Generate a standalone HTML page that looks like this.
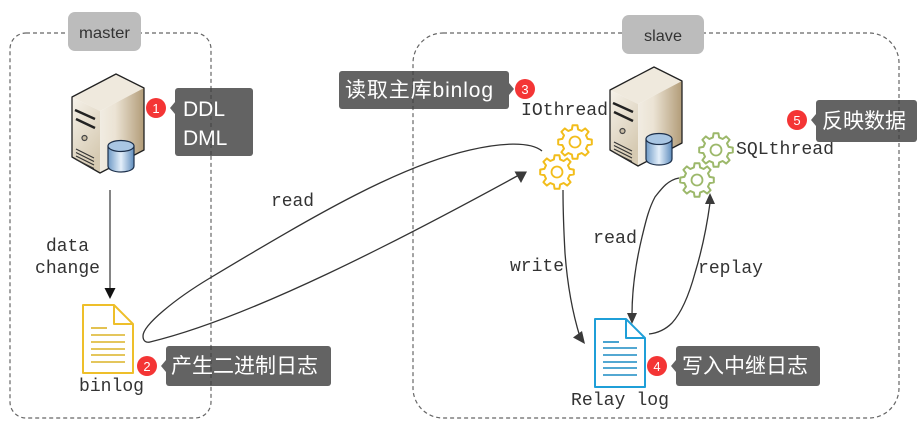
<!DOCTYPE html>
<html>
<head>
<meta charset="utf-8">
<style>
html,body{margin:0;padding:0;background:#fff;width:917px;height:435px;overflow:hidden}
svg{display:block}
.mono{font-family:"Liberation Mono",monospace;font-size:18px;fill:#333}
.cjk{font-family:"Liberation Sans","Noto Sans CJK SC",sans-serif;font-size:21px;fill:#fff}
.num{font-family:"Liberation Sans",sans-serif;font-size:13px;fill:#fff;text-anchor:middle}
.tag{font-family:"Liberation Sans",sans-serif;font-size:16px;fill:#333}
</style>
</head>
<body>
<svg width="917" height="435" viewBox="0 0 917 435" xmlns="http://www.w3.org/2000/svg">
<defs>
<linearGradient id="side" x1="0" x2="1" y1="0" y2="0"><stop offset="0" stop-color="#f1ece2"/><stop offset=".35" stop-color="#ebe3d4"/><stop offset="1" stop-color="#b29c78"/></linearGradient>
<linearGradient id="front" x1="0" x2="0.5" y1="0" y2="1"><stop offset="0" stop-color="#f6f2ea"/><stop offset="1" stop-color="#d6caB2"/></linearGradient>
<linearGradient id="cyl" x1="0" x2="1" y1="0" y2="0"><stop offset="0" stop-color="#6f9ac6"/><stop offset=".5" stop-color="#e4effa"/><stop offset="1" stop-color="#5f8dbd"/></linearGradient>
<g id="server">
<polygon points="116,74 144,88 100,111 72,97" fill="#efe9dd"/>
<polygon points="144,88 144,150 100,173 100,111" fill="url(#side)"/>
<polygon points="72,97 100,111 100,173 72,157" fill="url(#front)"/>
<polygon points="116,74 144,88 144,150 100,173 72,157 72,97" fill="none" stroke="#222" stroke-width="1.300" stroke-linejoin="round"/>
<polyline points="75,110 95,119" stroke="#222" stroke-width="2.500" fill="none"/>
<polyline points="76,119 95,128" stroke="#222" stroke-width="2.500" fill="none"/>
<circle cx="84.500" cy="138" r="2.500" fill="#c9bda6" stroke="#444" stroke-width="1.200"/>
<path d="M76 149l18 9M76 152.500l18 9M76 156l18 9M76 159.500l18 9" stroke="#333" stroke-width="1.100" fill="none"/>
<path d="M108 146v20c0 8 26 8 26 0v-20z" fill="url(#cyl)" stroke="#1c2f4a" stroke-width="1.200"/>
<ellipse cx="121" cy="146" rx="13" ry="5.500" fill="#a9c6e3" stroke="#1c2f4a" stroke-width="1.200"/>
</g>
<polygon id="gear" points="12.600,-3.100 16.800,-2.400 16.800,2.400 12.600,3.100 11,6.700 13.600,10.200 10.200,13.600 6.700,11 3.100,12.600 2.400,16.800 -2.400,16.800 -3.100,12.600 -6.700,11 -10.200,13.600 -13.600,10.200 -11,6.700 -12.600,3.100 -16.800,2.400 -16.800,-2.400 -12.600,-3.100 -11,-6.700 -13.600,-10.200 -10.200,-13.600 -6.700,-11 -3.100,-12.600 -2.400,-16.800 2.400,-16.800 3.100,-12.600 6.700,-11 10.200,-13.600 13.600,-10.200 11,-6.700" fill="#fff" stroke-width="2" stroke-linejoin="round"/>
</defs>

<rect x="10" y="33" width="201" height="385" rx="16" fill="none" stroke="#666" stroke-width="1.200" stroke-dasharray="4 3"/>
<rect x="413" y="33" width="486" height="385" rx="30" fill="none" stroke="#666" stroke-width="1.200" stroke-dasharray="4 3"/>

<rect x="68" y="12" width="73" height="39" rx="7" fill="#bcbcbc"/>
<text class="tag" x="79" y="38" textLength="51" lengthAdjust="spacingAndGlyphs">master</text>
<rect x="622" y="15" width="82" height="39" rx="7" fill="#bcbcbc"/>
<text class="tag" x="644" y="41" textLength="38" lengthAdjust="spacingAndGlyphs">slave</text>

<use href="#server"/>
<use href="#server" x="538" y="-7"/>

<line x1="110" y1="190" x2="110" y2="288" stroke="#333" stroke-width="1.200"/>
<polygon points="104.500,288 115.500,288 110,299" fill="#111"/>

<g fill="none" stroke="#333" stroke-width="1.300">
<path d="M542 151C530 141 500 143 470 150C400 166 320 212 210 278C175 299 143 325 143 336C143 341 146 343 150 342C250 318 400 240 519 175"/>
<path d="M563 190C563 210 564 235 565 253C567 280 571 308 580 337"/>
<path d="M679 178C668 180 662 188 655 197C648 210 645 225 642 237C636 262 632 290 632 315"/>
<path d="M649 334C658 333 665 330 672 323C682 312 689 295 695 273C702 250 707 225 710 203"/>
</g>
<g fill="#3a3a3a">
<polygon points="527,171.500 514.500,171.500 521,183"/>
<polygon points="585,344 573,337.500 582,331"/>
<polygon points="632,324 627,313 637,313"/>
<polygon points="710,193 705,204 715,204"/>
</g>

<g fill="none" stroke="#f2bd1b">
<use href="#gear" x="575" y="142" stroke="#f2bd1b"/>
<circle cx="575" cy="142" r="5.500" stroke-width="1.800"/>
<use href="#gear" x="557" y="172" stroke="#f2bd1b"/>
<circle cx="557" cy="172" r="5.500" stroke-width="1.800"/>
</g>
<g fill="none" stroke="#9cb86a">
<use href="#gear" x="716" y="150" stroke="#9cb86a"/>
<circle cx="716" cy="150" r="5.500" stroke-width="1.800"/>
<use href="#gear" x="697" y="180" stroke="#9cb86a"/>
<circle cx="697" cy="180" r="5.500" stroke-width="1.800"/>
</g>

<g fill="#fff" stroke="#eebf2a" stroke-width="2" stroke-linejoin="round">
<path d="M83 305H114L133 324V373H83Z"/>
<path d="M114 305V324H133" fill="none"/>
</g>
<g stroke="#dcb326" stroke-width="1.600">
<line x1="91" y1="328" x2="107" y2="328"/>
<line x1="91" y1="335" x2="125" y2="335"/>
<line x1="91" y1="342" x2="125" y2="342"/>
<line x1="91" y1="349" x2="125" y2="349"/>
<line x1="91" y1="355" x2="125" y2="355"/>
<line x1="91" y1="362" x2="125" y2="362"/>
</g>
<g fill="#fff" stroke="#1f9fd8" stroke-width="2" stroke-linejoin="round">
<path d="M595 319H626L645 338V387H595Z"/>
<path d="M626 319V338H645" fill="none"/>
</g>
<g stroke="#1a8cc4" stroke-width="1.600">
<line x1="603" y1="342" x2="619" y2="342"/>
<line x1="603" y1="348" x2="637" y2="348"/>
<line x1="603" y1="355" x2="637" y2="355"/>
<line x1="603" y1="362" x2="637" y2="362"/>
<line x1="603" y1="368" x2="637" y2="368"/>
<line x1="603" y1="375" x2="637" y2="375"/>
</g>

<text class="mono" x="271" y="206" textLength="43" lengthAdjust="spacingAndGlyphs">read</text>
<text class="mono" x="46" y="251" textLength="43" lengthAdjust="spacingAndGlyphs">data</text>
<text class="mono" x="35" y="273" textLength="65" lengthAdjust="spacingAndGlyphs">change</text>
<text class="mono" x="79" y="391" textLength="65" lengthAdjust="spacingAndGlyphs">binlog</text>
<text class="mono" x="521" y="115" textLength="87" lengthAdjust="spacingAndGlyphs">IOthread</text>
<text class="mono" x="736" y="154" textLength="98" lengthAdjust="spacingAndGlyphs">SQLthread</text>
<text class="mono" x="510" y="271" textLength="54" lengthAdjust="spacingAndGlyphs">write</text>
<text class="mono" x="593" y="243" textLength="44" lengthAdjust="spacingAndGlyphs">read</text>
<text class="mono" x="698" y="273" textLength="65" lengthAdjust="spacingAndGlyphs">replay</text>
<text class="mono" x="571" y="405" textLength="98" lengthAdjust="spacingAndGlyphs">Relay log</text>

<g fill="#636363">
<rect x="175" y="88" width="78" height="68" rx="3"/>
<polygon points="175,102 170,108 175,114"/>
<rect x="166" y="346" width="165" height="40" rx="3"/>
<polygon points="166,360 161,366 166,372"/>
<rect x="339" y="71" width="170" height="38" rx="3"/>
<polygon points="509,83 514,89 509,95"/>
<rect x="676" y="346" width="144" height="40" rx="3"/>
<polygon points="676,360 671,366 676,372"/>
<rect x="816" y="100" width="101" height="42" rx="3"/>
<polygon points="816,114 811,120 816,126"/>
</g>
<g stroke="#474747" stroke-width="1.200" stroke-dasharray="4 3">
<line x1="211" y1="88" x2="211" y2="156"/>
<line x1="211" y1="346" x2="211" y2="386"/>
<line x1="413" y1="71" x2="413" y2="109"/>
<line x1="899" y1="100" x2="899" y2="142"/>
</g>

<text class="cjk" x="183" y="116">DDL</text>
<text class="cjk" x="183" y="145">DML</text>
<text class="cjk" x="171" y="373">产生二进制日志</text>
<text class="cjk" x="345" y="97" textLength="148">读取主库binlog</text>
<text class="cjk" x="682" y="373">写入中继日志</text>
<text class="cjk" x="822" y="128">反映数据</text>

<g fill="#f43535">
<circle cx="156" cy="108" r="10"/>
<circle cx="147" cy="366" r="10"/>
<circle cx="525" cy="89" r="10"/>
<circle cx="657" cy="366" r="10"/>
<circle cx="797" cy="120" r="10"/>
</g>
<text class="num" x="156" y="113">1</text>
<text class="num" x="147" y="371">2</text>
<text class="num" x="525" y="94">3</text>
<text class="num" x="657" y="371">4</text>
<text class="num" x="797" y="125">5</text>
</svg>
</body>
</html>
